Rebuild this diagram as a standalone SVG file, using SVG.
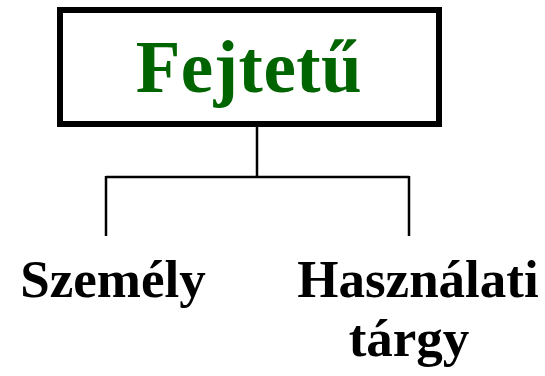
<svg xmlns="http://www.w3.org/2000/svg" width="545" height="376" viewBox="0 0 545 376">
<style>
.lbl{font-family:"Liberation Serif","Times New Roman",serif;font-weight:bold;fill:#000;text-anchor:middle}
.ttl{font-family:"Liberation Serif","Times New Roman",serif;font-weight:bold;fill:#006400;text-anchor:middle}
.conn{stroke:#000;stroke-width:2.5;fill:none}
</style>
<rect width="545" height="376" fill="#fff"/>
<g id="connectors">
<path class="conn" d="M257,116 V177 M106,177 H409 M106,176 V236 M409,176 V236"/>
</g>
<g id="root">
<rect x="60" y="10" width="379" height="114" fill="#fff" stroke="#000" stroke-width="6"/>
<text class="ttl" x="249" y="92" font-size="73" letter-spacing="0.5">Fejtetű</text>
</g>
<g id="szemely">
<text class="lbl" x="113" y="297" font-size="53">Személy</text>
</g>
<g id="hasznalati">
<text class="lbl" x="418" y="297" font-size="53">Használati</text>
<text class="lbl" x="409" y="356" font-size="53">tárgy</text>
</g>
</svg>
